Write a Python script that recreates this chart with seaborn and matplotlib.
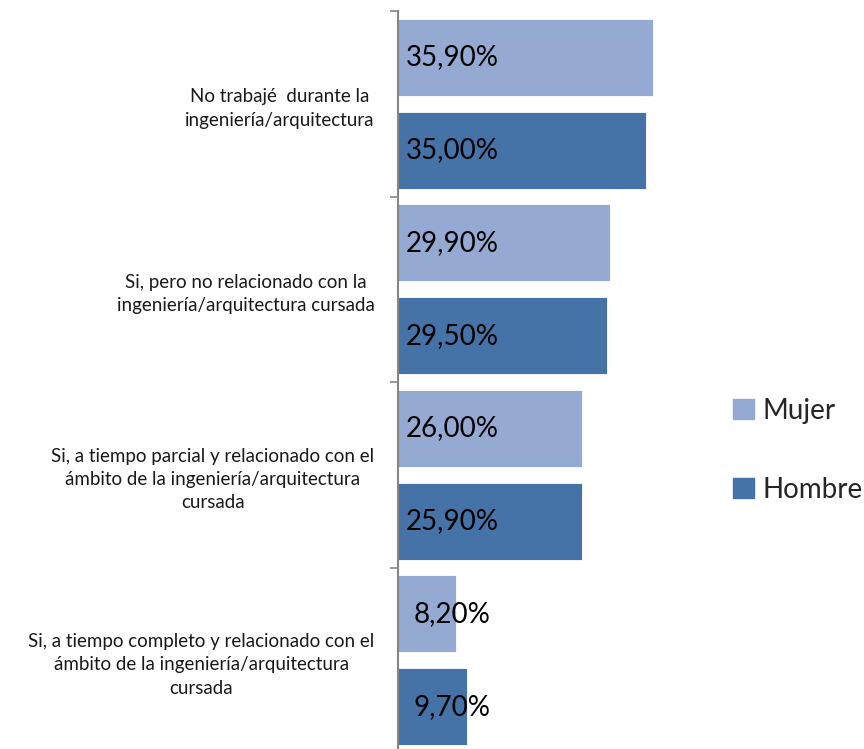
import matplotlib
matplotlib.use("Agg")
import matplotlib.pyplot as plt
import seaborn as sns
import pandas as pd
import numpy as np

categorias = [
    "No trabajé  durante la\ningeniería/arquitectura",
    "Si, pero no relacionado con la\ningeniería/arquitectura cursada",
    "Si, a tiempo parcial y relacionado con el\námbito de la ingeniería/arquitectura\ncursada",
    "Si, a tiempo completo y relacionado con el\námbito de la ingeniería/arquitectura\ncursada",
]
mujer = [35.9, 29.9, 26.0, 8.2]
hombre = [35.0, 29.5, 25.9, 9.7]
series = ["Mujer", "Hombre"]
colores = ["#94AAD2", "#4572A7"]

df = pd.DataFrame({
    "categoria": categorias * 2,
    "valor": mujer + hombre,
    "sexo": [series[0]] * 4 + [series[1]] * 4,
})

sns.set_style("white")
plt.rcParams["font.family"] = ["Lato", "DejaVu Sans"]

fig = plt.figure(figsize=(8.64, 7.49), dpi=100)
ax = fig.add_axes([398 / 864, -4 / 749, 300 / 864, 742 / 749])

sns.barplot(data=df, y="categoria", x="valor", hue="sexo", order=categorias,
            hue_order=series, palette=colores, saturation=1, orient="h",
            width=1.0, gap=0.17, edgecolor="white", linewidth=0.6, ax=ax,
            legend=False)

# etiquetas de valor
for cont in ax.containers:
    for barra in cont:
        v = barra.get_width()
        y = barra.get_y() + barra.get_height() / 2
        ax.text(7.6, y, f"{v:.2f}%".replace(".", ","), ha="center", va="center",
                fontsize=20, color="black")

ax.set_xlim(0, 42.3)
ax.set_ylim(len(categorias) - 0.5, -0.5)
ax.set_xlabel("")
ax.set_ylabel("")
ax.set_xticks([])
ax.set_yticks(range(len(categorias)))
ax.set_yticklabels(categorias, multialignment="center", fontsize=13.5,
                   linespacing=1.45, color="#1a1a1a")
ax.tick_params(axis="y", which="major", length=0, pad=17)
ax.set_yticks(np.arange(-0.5, len(categorias), 1.0), minor=True)
ax.tick_params(axis="y", which="minor", left=True, length=6, width=1.2,
               color="#868686", direction="out")
for s in ["top", "right", "bottom"]:
    ax.spines[s].set_visible(False)
ax.spines["left"].set_color("#868686")
ax.spines["left"].set_linewidth(1.5)

handles = [plt.Rectangle((0, 0), 1, 1, color=c) for c in colores]
fig.legend(handles, series, loc="center left", bbox_to_anchor=(0.82, 0.399),
           frameon=False, fontsize=20, labelspacing=1.9, handlelength=0.75,
           handleheight=0.75, handletextpad=0.3)

fig.savefig("out.png", dpi=100)
